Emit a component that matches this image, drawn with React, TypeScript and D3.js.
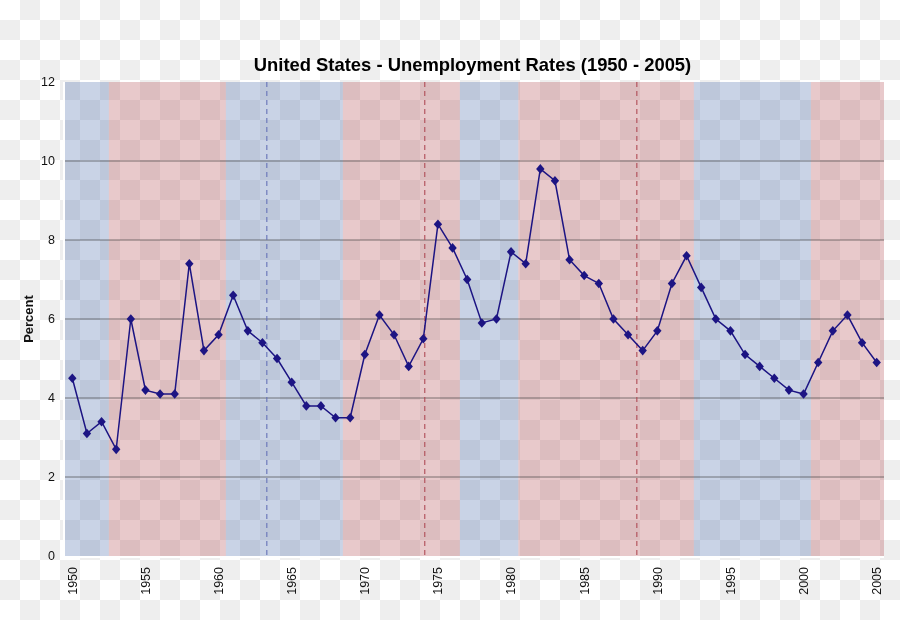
import React from "react";
import * as d3 from "d3";

const years: number[] = [
  1950, 1951, 1952, 1953, 1954, 1955, 1956, 1957, 1958, 1959,
  1960, 1961, 1962, 1963, 1964, 1965, 1966, 1967, 1968, 1969,
  1970, 1971, 1972, 1973, 1974, 1975, 1976, 1977, 1978, 1979,
  1980, 1981, 1982, 1983, 1984, 1985, 1986, 1987, 1988, 1989,
  1990, 1991, 1992, 1993, 1994, 1995, 1996, 1997, 1998, 1999,
  2000, 2001, 2002, 2003, 2004, 2005,
];
const rates: number[] = [
  4.5, 3.1, 3.4, 2.7, 6.0, 4.2, 4.1, 4.1, 7.4, 5.2,
  5.6, 6.6, 5.7, 5.4, 5.0, 4.4, 3.8, 3.8, 3.5, 3.5,
  5.1, 6.1, 5.6, 4.8, 5.5, 8.4, 7.8, 7.0, 5.9, 6.0,
  7.7, 7.4, 9.8, 9.5, 7.5, 7.1, 6.9, 6.0, 5.6, 5.2,
  5.7, 6.9, 7.6, 6.8, 6.0, 5.7, 5.1, 4.8, 4.5, 4.2,
  4.1, 4.9, 5.7, 6.1, 5.4, 4.9,
];
const xTickYears: number[] = [1950, 1955, 1960, 1965, 1970, 1975, 1980, 1985, 1990, 1995, 2000, 2005];
const yTicks: number[] = [0, 2, 4, 6, 8, 10, 12];
const gridValues: number[] = [2, 4, 6, 8, 10];

const termStartYears: number[] = [1950, 1953, 1961, 1969, 1977, 1981, 1993, 2001];
const termEndYears: number[] = [1952, 1960, 1968, 1976, 1980, 1992, 2000, 2005];
const termParties: string[] = ["D", "R", "D", "R", "D", "R", "D", "R"];

const transitionYears: number[] = [1963.8, 1974.6, 1989.1];
const transitionParties: string[] = ["D", "R", "R"];

const titleText = "United States - Unemployment Rates (1950 - 2005)";
const yAxisLabel = "Percent";

const W = 900;
const H = 620;
const left = 65;
const right = 884;
const top = 82;
const bottom = 556;

export default function App() {
  const x = d3
    .scaleBand<number>()
    .domain(years)
    .range([left, right])
    .padding(0);
  const bw = x.bandwidth();
  const cx = (yr: number) => (x(yr) as number) + bw / 2;
  const fracX = (yr: number) => {
    const base = Math.floor(yr);
    return (x(base) as number) + (yr - base) * bw;
  };
  const y = d3.scaleLinear().domain([0, 12]).range([bottom, top]);

  const line = d3
    .line<number>()
    .x((_, i) => cx(years[i]))
    .y((d) => y(d));

  const partyFill = (p: string) => (p === "D" ? "rgb(86,117,177)" : "rgb(183,86,92)");
  const partyDash = (p: string) => (p === "D" ? "#6672b8" : "#b04c56");

  const diamond = (px: number, py: number) =>
    `M${px},${py - 4.8}L${px + 4.2},${py}L${px},${py + 4.8}L${px - 4.2},${py}Z`;

  return (
    <svg
      width={W}
      height={H}
      style={{ position: "fixed", left: 0, top: 0, display: "block" }}
      fontFamily="Liberation Sans, Arial, sans-serif"
    >
      <defs>
        <pattern id="checker" x={0} y={0} width={40} height={40} patternUnits="userSpaceOnUse">
          <rect x={0} y={0} width={40} height={40} fill="#ffffff" />
          <rect x={20} y={0} width={20} height={20} fill="#eeeeee" />
          <rect x={0} y={20} width={20} height={20} fill="#eeeeee" />
        </pattern>
      </defs>
      <rect x={0} y={0} width={W} height={H} fill="url(#checker)" />

      {/* party bands */}
      {termStartYears.map((s, i) => {
        const x0 = x(s) as number;
        const x1 = (x(termEndYears[i]) as number) + bw;
        return (
          <rect
            key={"band" + i}
            x={x0}
            y={top}
            width={x1 - x0}
            height={bottom - top}
            fill={partyFill(termParties[i])}
            fillOpacity={0.32}
          />
        );
      })}

      {/* grid lines */}
      {gridValues.map((g) => (
        <line
          key={"g" + g}
          x1={left}
          x2={right}
          y1={y(g)}
          y2={y(g)}
          stroke="#333333"
          strokeOpacity={0.6}
          strokeWidth={1}
        />
      ))}

      {/* transition dashed lines */}
      {transitionYears.map((t, i) => (
        <line
          key={"t" + i}
          x1={fracX(t)}
          x2={fracX(t)}
          y1={top}
          y2={bottom}
          stroke={partyDash(transitionParties[i])}
          strokeWidth={1.1}
          strokeDasharray="5,4"
        />
      ))}

      {/* axes (white) */}
      <line x1={left - 1} x2={left - 1} y1={top} y2={bottom + 2} stroke="#ffffff" strokeWidth={2} />
      <line x1={left - 2} x2={right} y1={bottom + 1} y2={bottom + 1} stroke="#ffffff" strokeWidth={2} />

      {/* data line */}
      <path d={line(rates) || ""} fill="none" stroke="#1c1483" strokeWidth={1.5} />
      {rates.map((r, i) => (
        <path key={"m" + i} d={diamond(cx(years[i]), y(r))} fill="#1c1483" />
      ))}

      {/* y tick labels */}
      {yTicks.map((t) => (
        <text
          key={"yt" + t}
          x={55}
          y={y(t)}
          dy="0.35em"
          textAnchor="end"
          fontSize={12.5}
          fill="#111"
        >
          {t}
        </text>
      ))}

      {/* x tick labels */}
      {xTickYears.map((yr) => (
        <text
          key={"xt" + yr}
          transform={`translate(${cx(yr)},${567}) rotate(-90)`}
          dy="0.35em"
          textAnchor="end"
          fontSize={12.5}
          fill="#111"
        >
          {yr}
        </text>
      ))}

      {/* y axis label */}
      <text
        transform={`translate(28,${(top + bottom) / 2}) rotate(-90)`}
        dy="0.35em"
        textAnchor="middle"
        fontSize={13}
        fontWeight="bold"
        fill="#111"
      >
        {yAxisLabel}
      </text>

      {/* title */}
      <text x={472.5} y={71} textAnchor="middle" fontSize={18.4} fontWeight="bold" fill="#000">
        {titleText}
      </text>
    </svg>
  );
}
